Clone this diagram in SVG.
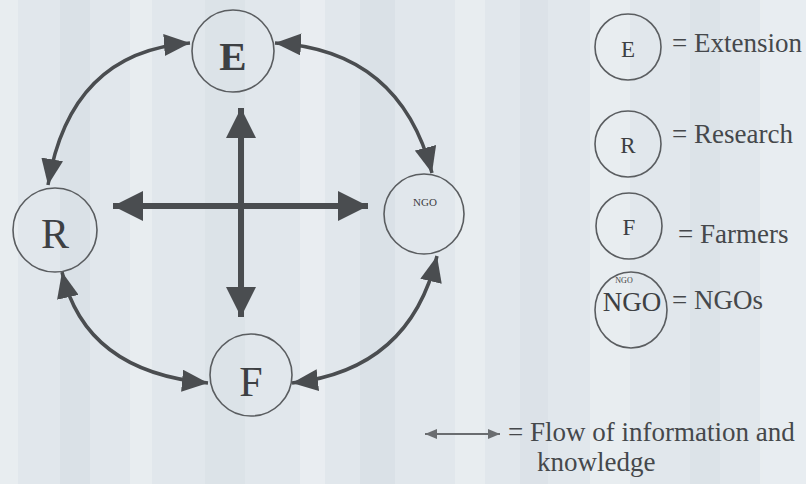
<svg xmlns="http://www.w3.org/2000/svg" width="806" height="484" viewBox="0 0 806 484">
  <style>
    .node { fill: none; stroke: #5a5d60; stroke-width: 1.6; }
    .big { font-family: "Liberation Serif", "Times New Roman", serif; fill: #3d4043; text-anchor: middle; }
    .lbl { font-family: "Liberation Serif", "Times New Roman", serif; fill: #45484b; font-size: 27px; }
    .curve { fill: none; stroke: #4a4d50; stroke-width: 3.5; marker-start: url(#head); marker-end: url(#head); }
    .cross { fill: none; stroke: #4a4d50; stroke-width: 6; marker-start: url(#bighead); marker-end: url(#bighead); }
  </style>
  <defs>
    <marker id="head" viewBox="0 0 26 22" refX="26" refY="11" markerWidth="26" markerHeight="22" markerUnits="userSpaceOnUse" orient="auto-start-reverse">
      <path d="M0,0 L26,11 L0,22 z" fill="#4a4d50"/>
    </marker>
    <marker id="bighead" viewBox="0 0 30 30" refX="30" refY="15" markerWidth="30" markerHeight="30" markerUnits="userSpaceOnUse" orient="auto-start-reverse">
      <path d="M0,0 L30,15 L0,30 z" fill="#4a4d50"/>
    </marker>
    <marker id="smallhead" viewBox="0 0 12 10" refX="12" refY="5" markerWidth="12" markerHeight="10" markerUnits="userSpaceOnUse" orient="auto-start-reverse">
      <path d="M0,0 L12,5 L0,10 z" fill="#6a6d70"/>
    </marker>
  </defs>

  <!-- paper background with faint vertical banding -->
  <rect x="0" y="0" width="806" height="484" fill="#e1e7ec"/>
  <g opacity="0.55">
    <rect x="0" y="0" width="18" height="484" fill="#eef2f5"/>
    <rect x="60" y="0" width="30" height="484" fill="#d6dde3"/>
    <rect x="130" y="0" width="22" height="484" fill="#eef2f5"/>
    <rect x="205" y="0" width="40" height="484" fill="#d9e0e6"/>
    <rect x="300" y="0" width="25" height="484" fill="#f0f3f6"/>
    <rect x="360" y="0" width="35" height="484" fill="#d6dde3"/>
    <rect x="455" y="0" width="30" height="484" fill="#eef2f5"/>
    <rect x="520" y="0" width="28" height="484" fill="#d8dfe5"/>
    <rect x="590" y="0" width="40" height="484" fill="#eef2f5"/>
    <rect x="690" y="0" width="30" height="484" fill="#d9e0e6"/>
    <rect x="760" y="0" width="46" height="484" fill="#eef2f5"/>
  </g>

  <!-- connectors -->
  <g id="connectors">
    <path class="curve" d="M190,43 Q70,52 48,185"/>
    <path class="curve" d="M275,43 Q400,50 432,173"/>
    <path class="curve" d="M62,272 Q85,372 208,383"/>
    <path class="curve" d="M437,256 Q410,370 292,383"/>
    <line class="cross" x1="113" y1="206" x2="368" y2="206"/>
    <line class="cross" x1="241" y1="108" x2="241" y2="317"/>
  </g>

  <!-- nodes -->
  <g id="node-E">
    <circle class="node" cx="233" cy="51" r="41"/>
    <text class="big" x="233" y="70" font-size="41" font-weight="bold">E</text>
  </g>
  <g id="node-R">
    <circle class="node" cx="55" cy="230" r="42"/>
    <text class="big" x="55" y="248" font-size="42">R</text>
  </g>
  <g id="node-F">
    <circle class="node" cx="251" cy="375" r="41"/>
    <text class="big" x="251" y="396" font-size="42">F</text>
  </g>
  <g id="node-NGO">
    <circle class="node" cx="424" cy="214" r="40"/>
    <text class="big" x="425" y="206" font-size="11" fill="#7a7d80">NGO</text>
  </g>

  <!-- key -->
  <g id="key-E">
    <circle class="node" cx="628" cy="47" r="33"/>
    <text class="big" x="628" y="57" font-size="23">E</text>
    <text class="lbl" x="672" y="52">= Extension</text>
  </g>
  <g id="key-R">
    <circle class="node" cx="628" cy="144" r="33"/>
    <text class="big" x="628" y="153" font-size="23">R</text>
    <text class="lbl" x="672" y="143">= Research</text>
  </g>
  <g id="key-F">
    <circle class="node" cx="629" cy="226" r="33"/>
    <text class="big" x="629" y="235" font-size="23">F</text>
    <text class="lbl" x="678" y="243">= Farmers</text>
  </g>
  <g id="key-NGO">
    <ellipse class="node" cx="631" cy="310" rx="36" ry="38"/>
    <text class="big" x="632" y="311" font-size="27">NGO</text>
    <text class="big" x="624" y="283" font-size="8">NGO</text>
    <text class="lbl" x="672" y="309">= NGOs</text>
  </g>
  <g id="key-flow">
    <line x1="425" y1="434" x2="500" y2="434" stroke="#6a6d70" stroke-width="2" marker-start="url(#smallhead)" marker-end="url(#smallhead)"/>
    <text class="lbl" x="508" y="441">= Flow of information and</text>
    <text class="lbl" x="537" y="471">knowledge</text>
  </g>
</svg>
